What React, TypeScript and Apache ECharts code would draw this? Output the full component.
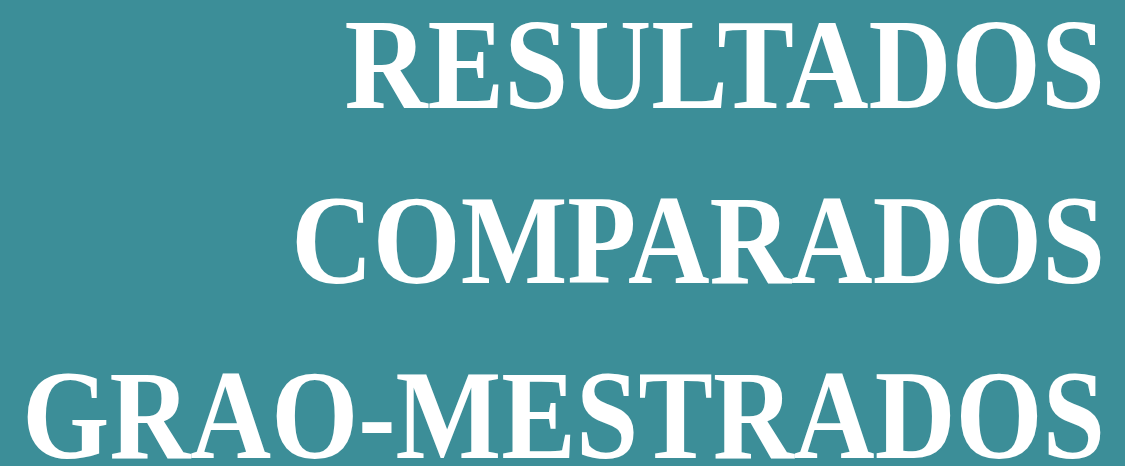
import React, { useEffect, useRef } from "react";
import * as echarts from "echarts";

const titleLines: string[] = ["RESULTADOS", "COMPARADOS", "GRAO-MESTRADOS"];
// ink extents of each line (left edge, cap top, baseline)
const lineLeft: number[] = [343, 290, 15];
const lineCapTop: number[] = [22.7, 198, 373];
const lineBaseline: number[] = [106.7, 281.7, 456.7];
const rightEdge = 1105;
const bgColor = "#3c8e98";
const textColor = "#ffffff";
const fontFamily = "Liberation Serif, Times New Roman, serif";
const capRatio = 0.655;

function measure(text: string, size: number): number {
  const c = document.createElement("canvas");
  const ctx = c.getContext("2d");
  if (!ctx) return text.length * size * 0.7;
  ctx.font = `bold ${size}px ${fontFamily}`;
  return ctx.measureText(text).width;
}

export default function App() {
  const ref = useRef<HTMLDivElement>(null);
  useEffect(() => {
    if (!ref.current) return;
    const chart = echarts.init(ref.current, undefined, { renderer: "svg" });
    const elements = titleLines.map((t, i) => {
      const cap = lineBaseline[i] - lineCapTop[i];
      const target = rightEdge - lineLeft[i];
      // font size chosen so the width fits; height stretched to the cap height
      const ref100 = measure(t, 100);
      const size = Math.floor((target / ref100) * 100);
      const sy = cap / (size * capRatio);
      return {
        type: "group",
        x: rightEdge,
        y: (lineBaseline[i] + lineCapTop[i]) / 2,
        scaleY: sy,
        children: [
          {
            type: "text",
            x: 0,
            y: 0,
            style: {
              text: t,
              fill: textColor,
              fontFamily: fontFamily,
              fontWeight: "bold",
              fontSize: size,
              lineHeight: size * 0.8,
              align: "right",
              verticalAlign: "middle",
            },
          },
        ],
      };
    });
    chart.setOption({
      animation: false,
      backgroundColor: bgColor,
      graphic: elements,
    });
    return () => chart.dispose();
  }, []);
  return (
    <div
      ref={ref}
      style={{ position: "fixed", left: 0, top: 0, width: 1125, height: 466 }}
    />
  );
}
